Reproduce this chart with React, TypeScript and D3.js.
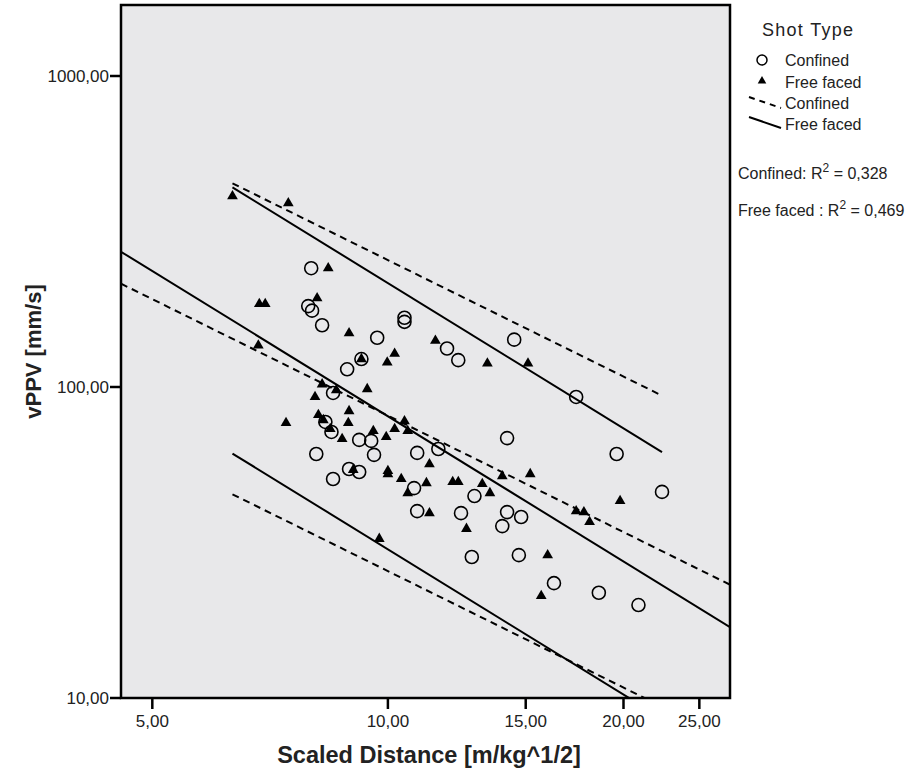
import React from "react";
import * as d3 from "d3";

// Confined shots: scaled distance [m/kg^1/2] and vPPV [mm/s]
const confinedDistance = [
  7.98, 7.91, 8.0, 8.24, 9.69, 10.5, 10.5, 11.9, 12.3, 14.5,
  9.25, 8.87, 8.51, 8.32, 8.47, 9.19, 9.52, 8.1, 9.6, 10.9,
  11.6, 8.92, 9.19, 8.51, 10.8, 12.9, 10.9, 12.4, 14.2, 14.8,
  14.0, 17.4, 14.2, 19.6, 22.4, 12.8, 14.7, 16.3, 18.6, 20.9,
];
const confinedPPV = [
  241, 182, 176, 158, 144, 167, 162, 133, 122, 142,
  123, 114, 95.7, 77.2, 71.7, 67.6, 67.1, 60.9, 60.5, 61.4,
  63.2, 54.5, 53.3, 50.6, 47.3, 44.6, 39.9, 39.3, 39.6, 38.2,
  35.7, 92.9, 68.5, 60.9, 46.0, 28.4, 28.8, 23.4, 21.8, 19.9,
];

// Free faced shots
const freeDistance = [
  6.33, 7.46, 8.39, 8.12, 6.85, 6.97, 6.83, 8.92, 9.25, 10.2,
  9.98, 11.5, 13.4, 15.1, 8.24, 8.59, 9.41, 8.07, 8.92, 8.15,
  8.27, 8.9, 7.41, 8.44, 8.74, 9.58, 10.2, 9.95, 10.5, 10.6,
  11.3, 10.0, 10.0, 10.4, 10.6, 11.2, 12.1, 12.3, 13.2, 13.5,
  11.3, 12.6, 14.0, 15.2, 17.4, 17.8, 18.1, 19.8, 16.0, 15.7,
  9.75, 9.03,
];
const freePPV = [
  411, 390, 241, 193, 185, 185, 136, 149, 123, 128,
  120, 141, 119, 119, 102, 97.7, 98.5, 92.9, 83.7, 81.3,
  78.3, 76.6, 76.6, 73.3, 68.1, 72.2, 73.3, 69.1, 77.7, 72.2,
  56.5, 53.7, 52.5, 50.6, 45.6, 49.1, 49.5, 49.5, 48.8, 45.6,
  39.3, 35.0, 51.7, 52.5, 39.9, 39.6, 36.8, 43.0, 28.8, 21.3,
  32.5, 54.1,
];

const xTickValues = [5, 10, 15, 20, 25];
const yTickValues = [10, 100, 1000];

// log10(vPPV) = intercept + slope * log10(SD); band = half-width of prediction interval (log10)
const fitConfinedIntercept = 3.152;
const fitConfinedSlope = -1.244;
const fitConfinedBand = 0.5;
const fitFreeIntercept = 3.457;
const fitFreeSlope = -1.551;
const fitFreeBand = 0.428;
const r2Confined = "0,328";
const r2Free = "0,469";

const FONT = "'Liberation Sans', Arial, Helvetica, sans-serif";

export default function App() {
  const W = 917;
  const H = 772;
  const left = 121;
  const right = 730;
  const top = 5;
  const bottom = 698;

  const x = d3.scaleLog().domain([4.56, 27.36]).range([left, right]);
  const y = d3.scaleLog().domain([10, Math.pow(10, 1 + (bottom - top) / 311)]).range([bottom, top]);

  const allX = confinedDistance.concat(freeDistance);
  const [minX, maxX] = d3.extent(allX) as [number, number];
  const [d0, d1] = x.domain();

  const line = d3
    .line<[number, number]>()
    .x((d) => x(d[0]))
    .y((d) => y(d[1]));

  const fitPts = (a: number, b: number, off: number, x0: number, x1: number) => {
    const f = (v: number) => Math.pow(10, a + b * Math.log10(v) + off);
    return [
      [x0, f(x0)],
      [x1, f(x1)],
    ] as [number, number][];
  };

  const fmt = (v: number) => v.toFixed(2).replace(".", ",");
  const tri = d3.symbol(d3.symbolTriangle, 50)() as string;
  const dash = "7,5";

  const fitLines = [
    { a: fitFreeIntercept, b: fitFreeSlope, band: fitFreeBand, dashed: false },
    { a: fitConfinedIntercept, b: fitConfinedSlope, band: fitConfinedBand, dashed: true },
  ];

  return (
    <svg
      width={W}
      height={H}
      style={{ position: "absolute", left: 0, top: 0, background: "#fff" }}
      fontFamily={FONT}
    >
      <defs>
        <clipPath id="plotclip">
          <rect x={left} y={top} width={right - left} height={bottom - top} />
        </clipPath>
      </defs>
      <rect x={left} y={top} width={right - left} height={bottom - top} fill="#e8e8ea" />

      <g clipPath="url(#plotclip)">
        {fitLines.map((fl, i) => (
          <g key={i} fill="none" stroke="#000" strokeWidth={2} strokeDasharray={fl.dashed ? dash : undefined}>
            <path d={line(fitPts(fl.a, fl.b, 0, d0, d1)) as string} />
            <path d={line(fitPts(fl.a, fl.b, fl.band, minX, maxX)) as string} />
            <path d={line(fitPts(fl.a, fl.b, -fl.band, minX, maxX)) as string} />
          </g>
        ))}
        {confinedDistance.map((d, i) => (
          <circle key={"c" + i} cx={x(d)} cy={y(confinedPPV[i])} r={6.5} fill="none" stroke="#000" strokeWidth={1.6} />
        ))}
        {freeDistance.map((d, i) => (
          <path key={"t" + i} d={tri} transform={`translate(${x(d)},${y(freePPV[i])})`} fill="#000" />
        ))}
      </g>

      <rect x={left} y={top} width={right - left} height={bottom - top} fill="none" stroke="#000" strokeWidth={2.5} />

      {yTickValues.map((v) => (
        <g key={"y" + v}>
          <line x1={left - 11} x2={left} y1={y(v)} y2={y(v)} stroke="#000" strokeWidth={2.5} />
          <text x={left - 12} y={y(v)} dy="0.36em" textAnchor="end" fontSize={17} fill="#222">
            {fmt(v)}
          </text>
        </g>
      ))}
      {xTickValues.map((v) => (
        <g key={"x" + v}>
          <line x1={x(v)} x2={x(v)} y1={bottom} y2={bottom + 11} stroke="#000" strokeWidth={2.5} />
          <text x={x(v)} y={bottom + 29} textAnchor="middle" fontSize={17} fill="#222">
            {fmt(v)}
          </text>
        </g>
      ))}

      <text x={429} y={763} textAnchor="middle" fontSize={23.5} fontWeight="bold" fill="#222">
        Scaled Distance [m/kg^1/2]
      </text>
      <text
        transform={`translate(41,${(top + bottom) / 2}) rotate(-90)`}
        textAnchor="middle"
        fontSize={22}
        fontWeight="bold"
        fill="#222"
      >
        vPPV [mm/s]
      </text>

      {/* Legend */}
      <text x={762} y={36} fontSize={18} textLength={91} fill="#222">Shot Type</text>
      <circle cx={762} cy={60} r={5} fill="none" stroke="#000" strokeWidth={1.5} />
      <text x={785} y={66} fontSize={16} fill="#222">Confined</text>
      <path d={d3.symbol(d3.symbolTriangle, 32)() as string} transform="translate(762,81)" fill="#000" />
      <text x={785} y={88} fontSize={16} fill="#222">Free faced</text>
      <line x1={749} y1={97} x2={781} y2={108} stroke="#000" strokeWidth={2} strokeDasharray="6,5" />
      <text x={785} y={109} fontSize={16} fill="#222">Confined</text>
      <line x1={749} y1={117} x2={781} y2={128} stroke="#000" strokeWidth={2} />
      <text x={785} y={130} fontSize={16} fill="#222">Free faced</text>

      <text x={738} y={179} fontSize={16} fill="#222">
        Confined: R<tspan dy={-7} fontSize={12}>2</tspan>
        <tspan dy={7}> = {r2Confined}</tspan>
      </text>
      <text x={738} y={216} fontSize={16} fill="#222">
        Free faced : R<tspan dy={-7} fontSize={12}>2</tspan>
        <tspan dy={7}> = {r2Free}</tspan>
      </text>
    </svg>
  );
}
